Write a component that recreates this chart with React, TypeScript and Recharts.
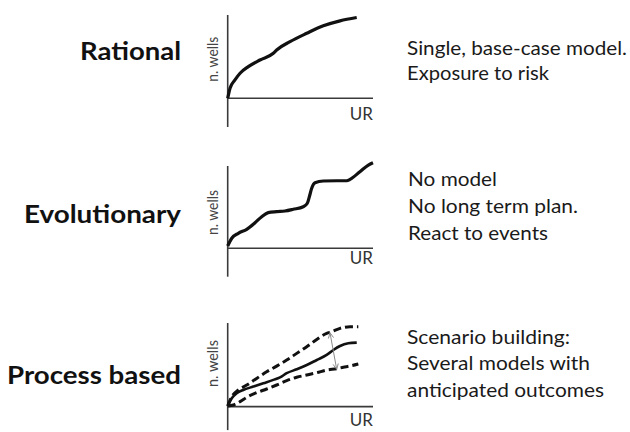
import React from 'react';
import { LineChart, Line, XAxis, YAxis, ReferenceLine } from 'recharts';

// values (x: 0..100 along UR, y: 0..100 up the n. wells axis)
const rationalCurve = [
  { x: 0, y: 0 }, { x: 1.6, y: 12 }, { x: 5, y: 22 }, { x: 8.5, y: 30 }, { x: 14.2, y: 38 },
  { x: 22.2, y: 46 }, { x: 31.4, y: 54 }, { x: 33.7, y: 58 }, { x: 42.9, y: 68 },
  { x: 54.4, y: 78 }, { x: 65.8, y: 87 }, { x: 77.3, y: 93 }, { x: 88.8, y: 97 },
];

const evolutionaryCurve = [
  { x: 0, y: 2.8 }, { x: 2.8, y: 12.2 }, { x: 7.3, y: 18.2 }, { x: 13.1, y: 23.1 },
  { x: 18.8, y: 31.1 }, { x: 23.4, y: 38.4 }, { x: 27.9, y: 43.3 }, { x: 33.7, y: 44.5 },
  { x: 39.4, y: 45.3 }, { x: 45.1, y: 47.4 }, { x: 52, y: 50.5 }, { x: 54.8, y: 54.7 },
  { x: 56.2, y: 62.7 }, { x: 57.8, y: 72.9 }, { x: 60.1, y: 79.7 }, { x: 65.8, y: 81.8 },
  { x: 75, y: 82.1 }, { x: 81.9, y: 82.1 }, { x: 84.2, y: 83.8 }, { x: 91, y: 93.1 },
  { x: 96.8, y: 101.2 }, { x: 100, y: 104 },
];

const processMid = [
  { x: 0, y: 0.8 }, { x: 2.8, y: 10 }, { x: 6.2, y: 16 }, { x: 10.7, y: 20 }, { x: 17.6, y: 24 },
  { x: 24.5, y: 28 }, { x: 31.4, y: 32 }, { x: 36, y: 35 }, { x: 40.6, y: 40 }, { x: 47.5, y: 44.7 },
  { x: 54.4, y: 49.8 }, { x: 61.3, y: 55.8 }, { x: 68.1, y: 61.8 }, { x: 72.7, y: 67.7 },
  { x: 77.3, y: 72.5 }, { x: 83, y: 75.7 }, { x: 88.8, y: 76.5 },
];

const processHigh = [
  { x: 0, y: 0.8 }, { x: 2.8, y: 11.9 }, { x: 7.3, y: 19.9 }, { x: 13.1, y: 25.8 }, { x: 19.9, y: 33.8 },
  { x: 26.8, y: 41.7 }, { x: 33.7, y: 48.5 }, { x: 40.6, y: 55.7 }, { x: 47.5, y: 63.7 },
  { x: 54.4, y: 71.6 }, { x: 61.3, y: 80.4 }, { x: 68.1, y: 87.6 }, { x: 71.6, y: 89.6 },
  { x: 77.3, y: 93.6 }, { x: 84.2, y: 95.6 }, { x: 89.9, y: 95.6 },
];

const processLow = [
  { x: 0, y: 0.8 }, { x: 3.9, y: 2 }, { x: 8.5, y: 6 }, { x: 13.1, y: 11.2 }, { x: 19.9, y: 16.7 },
  { x: 26.8, y: 21.1 }, { x: 33.7, y: 25.9 }, { x: 40.6, y: 31.1 }, { x: 47.5, y: 35.1 },
  { x: 54.4, y: 37.8 }, { x: 61.3, y: 40.6 }, { x: 68.1, y: 43.8 }, { x: 75, y: 45.4 },
  { x: 79.6, y: 47.1 }, { x: 84.2, y: 48.6 }, { x: 89.9, y: 51 },
];

const spreadArrow = [{ x: 70.4, y: 88.4 }, { x: 75, y: 44.7 }];

const titles = ['Rational', 'Evolutionary', 'Process based'];
const notes = [
  ['Single, base-case model.', 'Exposure to risk'],
  ['No model', 'No long term plan.', 'React to events'],
  ['Scenario building:', 'Several models with', 'anticipated outcomes'],
];
const xLabel = 'UR';
const yLabel = 'n. wells';

const FONT = 'Lato, "Open Sans", sans-serif';
const AXIS = '#3a3a3a';
const INK = '#111';

const ArrowShape = (props: any) => {
  const { x1, y1, x2, y2 } = props;
  const a = Math.atan2(y2 - y1, x2 - x1);
  const head = (x: number, y: number, d: number) => {
    const l = 6, w = 0.45;
    return `M${x + l * Math.cos(d + w)},${y + l * Math.sin(d + w)} L${x},${y} L${x + l * Math.cos(d - w)},${y + l * Math.sin(d - w)}`;
  };
  return (
    <g stroke="#8a8a8a" strokeWidth={1} fill="none">
      <line x1={x1} y1={y1} x2={x2} y2={y2} />
      <path d={head(x1, y1, a)} />
      <path d={head(x2, y2, a + Math.PI)} />
    </g>
  );
};

const chartBox = (top: number, height: number, mTop: number, mBottom: number) => ({
  wrap: { position: 'absolute' as const, left: 0, top, width: 630, height },
  margin: { top: mTop, bottom: mBottom, left: 227.7, right: 257 },
});

// hand-drawn style axes: y axis runs past the origin, x axis stops at UR
const axisLines = (yMin: number) => [
  <ReferenceLine key="ya" segment={[{ x: 0, y: yMin }, { x: 0, y: 100 }]} stroke={AXIS} strokeWidth={1.6} />,
  <ReferenceLine key="xa" segment={[{ x: 0, y: 0 }, { x: 100, y: 0 }]} stroke={AXIS} strokeWidth={1.6} />,
];

const App = () => {
  const c1 = chartBox(0, 140, 15, 13);
  const c2 = chartBox(150, 130, 11.9, 3.3);
  const c3 = chartBox(300, 132, 23, 1.9);

  return (
    <div style={{ position: 'absolute', left: 0, top: 0, width: 630, height: 432, background: '#fff' }}>
      <div style={c1.wrap}>
        <LineChart width={630} height={140} margin={c1.margin}>
          <XAxis type="number" dataKey="x" domain={[0, 100]} hide />
          <YAxis type="number" dataKey="y" domain={[-34.5, 100]} hide />
          {axisLines(-34.5)}
          <Line data={rationalCurve} dataKey="y" type="monotone" stroke={INK} strokeWidth={3.2}
            dot={false} isAnimationActive={false} />
        </LineChart>
      </div>

      <div style={c2.wrap}>
        <LineChart width={630} height={130} margin={c2.margin}>
          <XAxis type="number" dataKey="x" domain={[0, 100]} hide />
          <YAxis type="number" dataKey="y" domain={[-34.5, 105]} hide />
          {axisLines(-34.5)}
          <Line data={evolutionaryCurve} dataKey="y" type="monotone" stroke={INK} strokeWidth={3.2}
            dot={false} isAnimationActive={false} />
        </LineChart>
      </div>

      <div style={c3.wrap}>
        <LineChart width={630} height={132} margin={c3.margin}>
          <XAxis type="number" dataKey="x" domain={[0, 100]} hide />
          <YAxis type="number" dataKey="y" domain={[-28, 100]} hide />
          {axisLines(-28)}
          <Line data={processHigh} dataKey="y" type="monotone" stroke={INK} strokeWidth={3}
            strokeDasharray="8 4" dot={false} isAnimationActive={false} />
          <Line data={processLow} dataKey="y" type="monotone" stroke={INK} strokeWidth={3}
            strokeDasharray="8 4" dot={false} isAnimationActive={false} />
          <Line data={processMid} dataKey="y" type="monotone" stroke={INK} strokeWidth={2.6}
            dot={false} isAnimationActive={false} />
          <ReferenceLine segment={spreadArrow} shape={ArrowShape} />
        </LineChart>
      </div>

      <svg width={630} height={432} style={{ position: 'absolute', left: 0, top: 0, pointerEvents: 'none' }}
        fontFamily={FONT}>
        {/* left titles */}
        <text x={181} y={59.5} textAnchor="end" fontSize={25} fontWeight="bold" fill="#111"
          textLength={101} lengthAdjust="spacingAndGlyphs">{titles[0]}</text>
        <text x={181} y={222.7} textAnchor="end" fontSize={25} fontWeight="bold" fill="#111"
          textLength={157} lengthAdjust="spacingAndGlyphs">{titles[1]}</text>
        <text x={181} y={384.3} textAnchor="end" fontSize={25} fontWeight="bold" fill="#111"
          textLength={174} lengthAdjust="spacingAndGlyphs">{titles[2]}</text>

        {/* right notes */}
        <text x={407} y={55} fontSize={20} fill="#1a1a1a" textLength={220} lengthAdjust="spacingAndGlyphs">{notes[0][0]}</text>
        <text x={407} y={80} fontSize={20} fill="#1a1a1a" textLength={142} lengthAdjust="spacingAndGlyphs">{notes[0][1]}</text>
        <text x={408} y={186} fontSize={20} fill="#1a1a1a" textLength={89} lengthAdjust="spacingAndGlyphs">{notes[1][0]}</text>
        <text x={408} y={213} fontSize={20} fill="#1a1a1a" textLength={170} lengthAdjust="spacingAndGlyphs">{notes[1][1]}</text>
        <text x={408} y={239.5} fontSize={20} fill="#1a1a1a" textLength={140} lengthAdjust="spacingAndGlyphs">{notes[1][2]}</text>
        <text x={407} y={343.5} fontSize={20} fill="#1a1a1a" textLength={163} lengthAdjust="spacingAndGlyphs">{notes[2][0]}</text>
        <text x={407} y={370} fontSize={20} fill="#1a1a1a" textLength={183} lengthAdjust="spacingAndGlyphs">{notes[2][1]}</text>
        <text x={407} y={396.7} fontSize={20} fill="#1a1a1a" textLength={197} lengthAdjust="spacingAndGlyphs">{notes[2][2]}</text>

        {/* axis labels */}
        {[59.2, 212.5, 363.5].map((cy, i) => (
          <text key={'yl' + i} x={218} y={cy} transform={`rotate(-90 218 ${cy})`} textAnchor="middle"
            fontSize={16} fill="#444" textLength={i === 2 ? 47 : 45} lengthAdjust="spacingAndGlyphs">{yLabel}</text>
        ))}
        {[120, 264, 426].map((by, i) => (
          <text key={'xl' + i} x={373} y={by} textAnchor="end" fontSize={17} fill="#333">{xLabel}</text>
        ))}
      </svg>
    </div>
  );
};

export default App;
